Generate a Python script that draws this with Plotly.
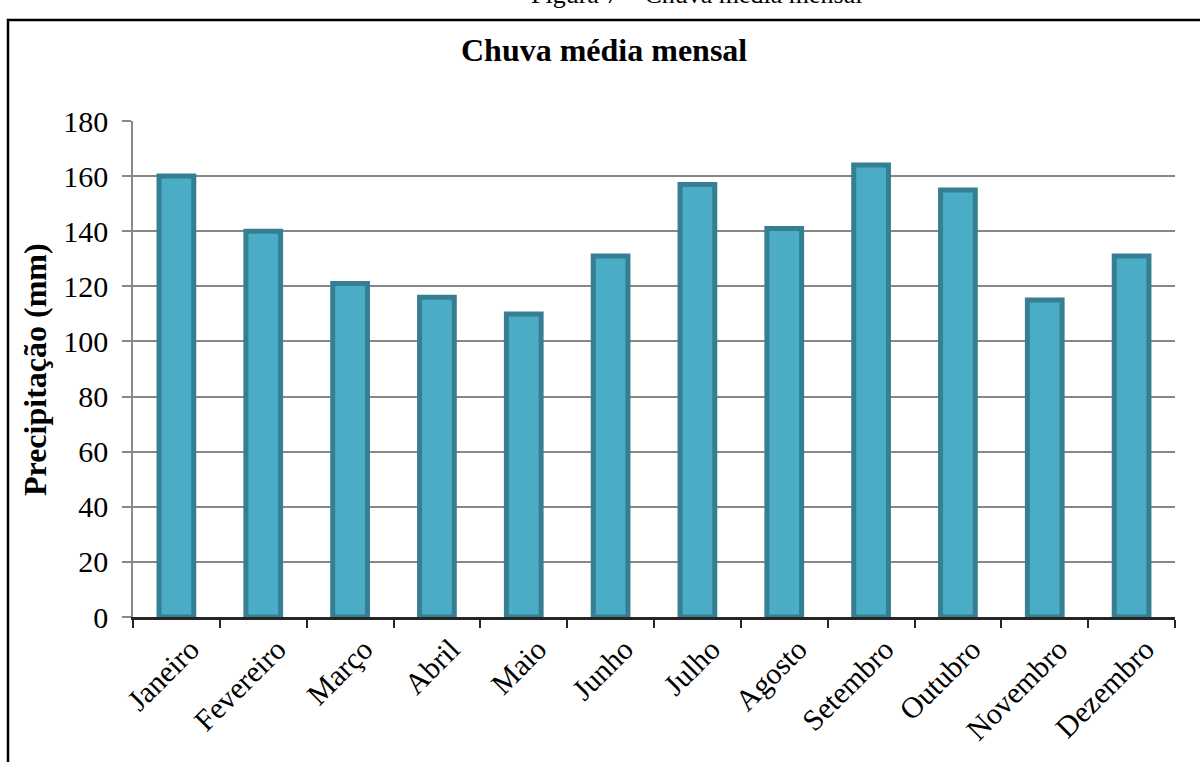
import plotly.graph_objects as go

months = ["Janeiro", "Fevereiro", "Março", "Abril", "Maio", "Junho",
          "Julho", "Agosto", "Setembro", "Outubro", "Novembro", "Dezembro"]
rain_mm = [160, 140, 121, 116, 110, 131, 157, 141, 164, 155, 115, 131]
y_ticks = [0, 20, 40, 60, 80, 100, 120, 140, 160, 180]

W, H = 1200, 762
L, R, T, B = 133, 25, 121, 145
pw, ph = W - L - R, H - T - B

def px(x):
    return (x - L) / pw

def py(y):
    return (H - B - y) / ph

FONT = "Liberation Serif, Times New Roman, serif"

fig = go.Figure(go.Bar(
    x=months, y=rain_mm,
    marker=dict(color="#4BACC6", line=dict(color="#367E92", width=5)),
))

fig.update_layout(
    width=W, height=H,
    margin=dict(l=L, r=R, t=T, b=B),
    paper_bgcolor="white", plot_bgcolor="white",
    bargap=0.6, showlegend=False,
    font=dict(family=FONT, color="black"),
    xaxis=dict(
        showline=True, linecolor="#262626", linewidth=2.5,
        ticks="outside", ticklen=8, tickwidth=2, tickcolor="#262626",
        tickson="boundaries", tickangle=-45,
        tickfont=dict(size=30, family=FONT, color="black"),
        ticklabelshift=14,
        showgrid=False,
    ),
    yaxis=dict(
        range=[0, 180], tickvals=y_ticks,
        showline=True, linecolor="#898989", linewidth=1.5,
        ticks="outside", ticklen=9, tickwidth=1.5, tickcolor="#898989",
        showgrid=True, gridcolor="#878787", gridwidth=1.5,
        zeroline=False,
        tickfont=dict(size=30, family=FONT, color="black"),
        ticklabelstandoff=8,
    ),
    shapes=[dict(type="rect", xref="paper", yref="paper",
                 x0=px(8), x1=px(1260), y0=py(900), y1=py(20),
                 line=dict(color="black", width=2.5), layer="below")],
    annotations=[
        dict(text="Figura 7 – Chuva média mensal", xref="paper", yref="paper",
             x=px(696), y=py(11), xanchor="center", yanchor="bottom",
             showarrow=False, font=dict(size=26, family=FONT, color="black")),
        dict(text="<b>Chuva média mensal</b>", xref="paper", yref="paper",
             x=px(604), y=py(50), xanchor="center", yanchor="middle",
             showarrow=False, font=dict(size=32, family=FONT, color="black")),
        dict(text="<b>Precipitação (mm)</b>", xref="paper", yref="paper",
             x=px(35), y=py(370), xanchor="center", yanchor="middle",
             textangle=-90,
             showarrow=False, font=dict(size=32, family=FONT, color="black")),
    ],
)

fig.write_html("out.html")
